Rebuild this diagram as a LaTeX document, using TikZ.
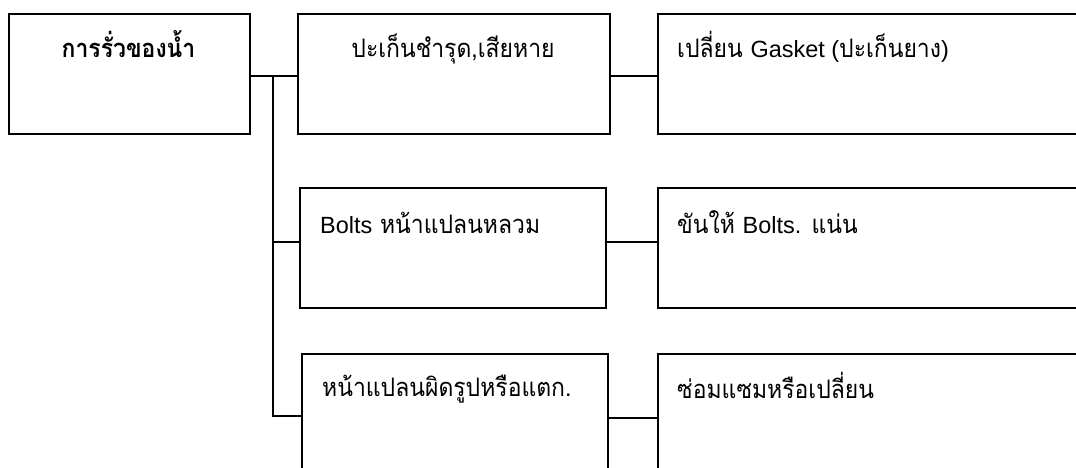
\documentclass[tikz,border=0pt]{standalone}
\usepackage{fontspec}
\newfontfamily\thai[Script=Thai, FakeStretch=0.9]{Loma}
\newfontfamily\lat[Scale=0.92]{Liberation Sans}
\begin{document}
\begin{tikzpicture}[x=1pt,y=-1pt]
\tikzset{
  box/.style={draw, line width=1.8pt, inner sep=0pt, anchor=north west},
  conn/.style={line width=1.7pt},
  lbl/.style={inner sep=0pt, anchor=base west, font=\thai\fontsize{25.5}{30}\selectfont},
}
\useasboundingbox (0,0) rectangle (1076,468);
\clip (0,0) rectangle (1076,468);
% boxes
\node[box, minimum width=241, minimum height=120] (a) at (8,13) {};
\node[box, minimum width=312, minimum height=120] (b) at (297,13) {};
\node[box, minimum width=440, minimum height=120] (c) at (657,13) {};
\node[box, minimum width=306, minimum height=120] (d) at (299,187) {};
\node[box, minimum width=440, minimum height=120] (e) at (657,187) {};
\node[box, minimum width=306, minimum height=124] (f) at (301,353) {};
\node[box, minimum width=440, minimum height=124] (g) at (657,353) {};
% texts
\node[lbl, anchor=base, font=\thai\bfseries\fontsize{25.5}{30}\selectfont] (ta) at (128.5,58) {การรั่วของน้ำ};
\node[lbl, anchor=base] (tb) at (453,58) {ปะเก็นชำรุด,เสียหาย};
\node[lbl] (tc) at (677,58) {เปลี่ยน {\lat Gasket (}ปะเก็นยาง{\lat )}};
\node[lbl] (td) at (320,233) {{\lat Bolts} หน้าแปลนหลวม};
\node[lbl] (te) at (677,233) {ขันให้ {\lat Bolts.} แน่น};
\node[lbl] (tf) at (322,396) {หน้าแปลนผิดรูปหรือแตก.};
\node[lbl] (tg) at (677,398) {ซ่อมแซมหรือเปลี่ยน};
% connectors
\coordinate (j) at (273,75);
\coordinate (dw) at ([yshift=6pt]d.west);
\draw[conn] ([yshift=-2pt]a.east) -- ([yshift=-2pt]b.west);
\draw[conn] ([yshift=-2pt]b.east) -- ([yshift=-2pt]c.west);
\draw[conn] (j) |- (f.west);
\draw[conn] (j |- dw) -- (dw);
\draw[conn] ([yshift=6pt]d.east) -- ([yshift=6pt]e.west);
\draw[conn] ([yshift=-2pt]f.east) -- ([yshift=-2pt]g.west);
\end{tikzpicture}
\end{document}
